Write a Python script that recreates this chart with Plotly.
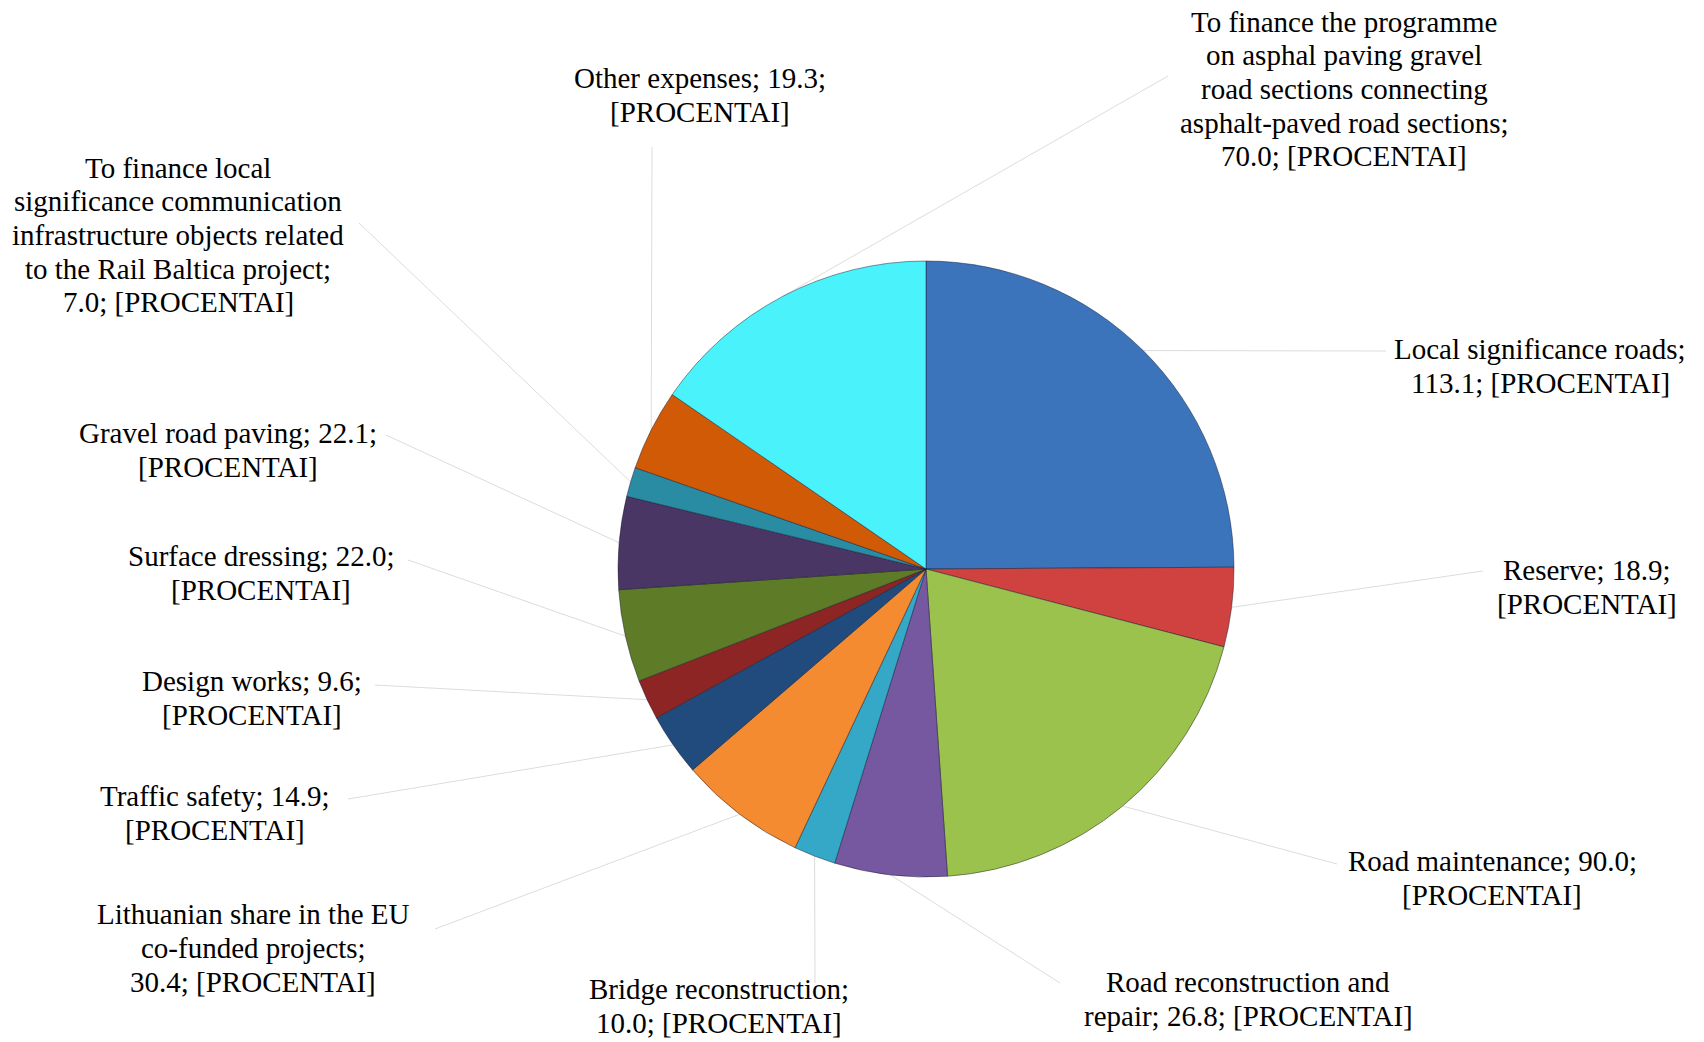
import math
import plotly.graph_objects as go

# Road fund allocation, in million EUR
categories = [
    "Local significance roads",
    "Reserve",
    "Road maintenance",
    "Road reconstruction and repair",
    "Bridge reconstruction",
    "Lithuanian share in the EU co-funded projects",
    "Traffic safety",
    "Design works",
    "Surface dressing",
    "Gravel road paving",
    "To finance local significance communication infrastructure objects related to the Rail Baltica project",
    "Other expenses",
    "To finance the programme on asphal paving gravel road sections connecting asphalt-paved road sections",
]
values = [113.1, 18.9, 90.0, 26.8, 10.0, 30.4, 14.9, 9.6, 22.0, 22.1, 7.0, 19.3, 70.0]

# Label text as wrapped lines (value inserted from `values`)
label_lines = [
    ["Local significance roads;", "{v}; [PROCENTAI]"],
    ["Reserve; {v};", "[PROCENTAI]"],
    ["Road maintenance; {v};", "[PROCENTAI]"],
    ["Road reconstruction and", "repair; {v}; [PROCENTAI]"],
    ["Bridge reconstruction;", "{v}; [PROCENTAI]"],
    ["Lithuanian share in the EU", "co-funded projects;", "{v}; [PROCENTAI]"],
    ["Traffic safety; {v};", "[PROCENTAI]"],
    ["Design works; {v};", "[PROCENTAI]"],
    ["Surface dressing; {v};", "[PROCENTAI]"],
    ["Gravel road paving; {v};", "[PROCENTAI]"],
    ["To finance local", "significance communication", "infrastructure objects related",
     "to the Rail Baltica project;", "{v}; [PROCENTAI]"],
    ["Other expenses; {v};", "[PROCENTAI]"],
    ["To finance the programme", "on asphal paving gravel", "road sections connecting",
     "asphalt-paved road sections;", "{v}; [PROCENTAI]"],
]

colors = [
    "#3C74BC", "#CF4240", "#9BC24C", "#7658A0", "#35A8C8", "#F58B30", "#214B7C",
    "#8C2523", "#5E7B28", "#4A3664", "#2A8CA3", "#D15A06", "#4AF3FC",
]

# Page geometry (pixels)
W, H = 1704, 1042
CX, CY, R = 926, 569, 308
LINE_H = 33.7
FONT = dict(family="Liberation Serif, Times New Roman, serif", size=29, color="#000000")

# Label centres and leader-line end points (pixels)
label_pos = [
    (1540, 366), (1587, 587), (1492, 878), (1248, 999), (719, 1006), (253, 948),
    (215, 813), (252, 698), (261, 573), (228, 450), (178, 235), (700, 95), (1344, 89),
]
leader_end = [
    (1386, 351), (1483, 571), (1337, 864), (1060, 983), (815, 983), (435, 929),
    (348, 799), (375, 685), (408, 560), (386, 435), (359, 223), (652, 147), (1168, 76),
]


def px(x):
    return x / W


def py(y):
    return 1 - y / H


fig = go.Figure(
    go.Pie(
        labels=categories,
        values=values,
        sort=False,
        direction="clockwise",
        rotation=0,
        textinfo="none",
        hoverinfo="label+value",
        marker=dict(colors=colors, line=dict(color="rgba(20,20,40,0.45)", width=1)),
        domain=dict(x=[px(CX - R), px(CX + R)], y=[py(CY + R), py(CY - R)]),
        showlegend=False,
    )
)

total = sum(values)
cum = 0.0
shapes = []
annotations = []
for i, v in enumerate(values):
    mid = (cum + v / 2) / total * 2 * math.pi
    cum += v
    sx = CX + R * math.sin(mid)
    sy = CY - R * math.cos(mid)
    ex, ey = leader_end[i]
    shapes.append(dict(
        type="line", xref="paper", yref="paper",
        x0=px(sx), y0=py(sy), x1=px(ex), y1=py(ey),
        line=dict(color="#dcdcdc", width=1), layer="below",
    ))
    lines = [line.format(v=f"{v:.1f}") for line in label_lines[i]]
    lx, ly = label_pos[i]
    top = ly - LINE_H * (len(lines) - 1) / 2
    for k, line in enumerate(lines):
        annotations.append(dict(
            text=line, xref="paper", yref="paper", x=px(lx), y=py(top + k * LINE_H),
            xanchor="center", yanchor="middle", align="center", showarrow=False,
            font=FONT,
        ))

fig.update_layout(
    width=W, height=H,
    margin=dict(l=0, r=0, t=0, b=0),
    paper_bgcolor="white", plot_bgcolor="white",
    shapes=shapes, annotations=annotations,
)

fig.write_html("out.html")
